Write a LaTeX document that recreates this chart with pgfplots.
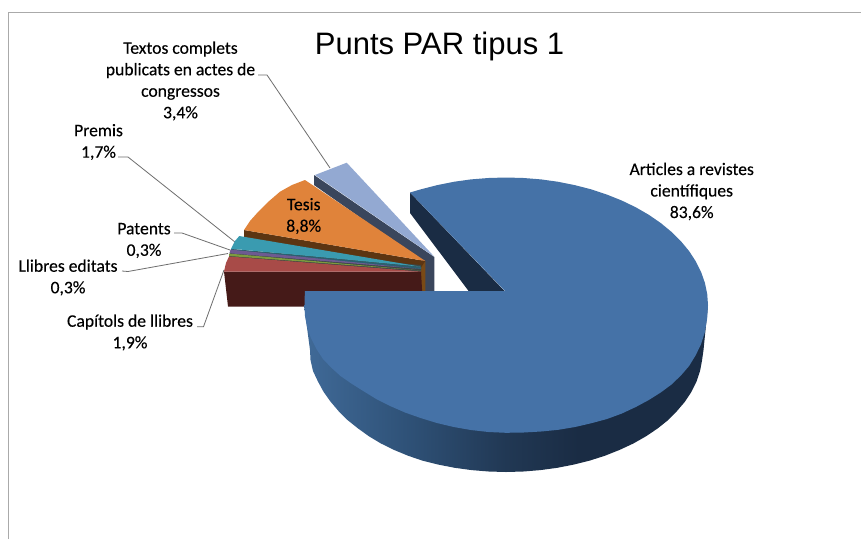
\documentclass[border=0pt]{standalone}
\usepackage{fontspec}
\usepackage{pgfplots}
\pgfplotsset{compat=1.18}
\setmainfont[FakeBold=0.2]{Carlito}
\newfontfamily\labfont[FakeBold=0.25]{Carlito}
\newfontfamily\titlefont{Liberation Sans}
\definecolor{pieblue}{RGB}{69,114,167}
\definecolor{wallblue}{RGB}{26,44,68}
\definecolor{sa}{RGB}{64,106,152}
\definecolor{sb}{RGB}{47,82,120}
\definecolor{sc}{RGB}{33,56,84}
\definecolor{sd}{RGB}{26,44,68}
\definecolor{leader}{RGB}{110,110,110}
\pgfdeclarehorizontalshading{sideblue}{100bp}{color(0bp)=(sa); color(25bp)=(sa); color(37.5bp)=(sb); color(50bp)=(sc); color(59bp)=(sd); color(100bp)=(sd)}
\begin{document}
\begin{tikzpicture}
\begin{axis}[width=861pt,height=539pt,scale only axis,xmin=0,xmax=861,ymin=0,ymax=539,y dir=reverse,hide axis,no markers,clip=true]
% canvas
\addplot[fill=white,draw=none] coordinates {(0,0)(861,0)(861,539)(0,539)} -- cycle;
% frame
\addplot[draw={rgb,255:red,170;green,170;blue,170},line width=1.2pt] coordinates {(8.3,539)(8.3,12.8)(861,12.8)};
% leaders
\addplot[draw=leader,line width=0.8pt] coordinates {(258,75)(267,75)(330,168)};
\addplot[draw=leader,line width=0.8pt] coordinates {(118,157)(128,157)(235,242)};
\addplot[draw=leader,line width=0.8pt] coordinates {(174,233)(182,233)(230,250)};
\addplot[draw=leader,line width=0.8pt] coordinates {(122,271)(128,271.5)(228,253.5)};
\addplot[draw=leader,line width=0.8pt] coordinates {(197,326.7)(203.5,326.7)(224,270)};
% light-blue slice (3,4%)
\addplot[fill={rgb,255:red,58;green,70;blue,92},draw=none] coordinates {(314,175)(314,185)(425,263)(425,291.5)(434.3,291.5)(434.3,257)} -- cycle;
\addplot[fill={rgb,255:red,147;green,169;blue,210},draw=none] coordinates {(315,175)(346.7,162.7)(434.3,256.7)} -- cycle;
% orange slice (8,8%)
\addplot[fill={rgb,255:red,122;green,74;blue,22},draw=none] coordinates {(420,262)(425.3,261)(425.3,291.5)(420,291.5)} -- cycle;
\addplot[fill={rgb,255:red,92;green,53;blue,18},draw=none] coordinates {(244,230)(244,237.5)(421,267.5)(425.3,261)} -- cycle;
\addplot[fill={rgb,255:red,224;green,131;blue,58},draw=none] coordinates {(425.3,261)(244,230)(250,221)(258.3,211.7)(268,202)(280,191.7)(292,185)(305,180)} -- cycle;
% backing of the thin slices
\addplot[fill={rgb,255:red,60;green,70;blue,70},draw=none] coordinates {(231,249)(421,265)(421,272)(229,257)} -- cycle;
% teal slice (1,7%)
\addplot[fill={rgb,255:red,42;green,96;blue,112},draw=none] coordinates {(231,249)(421,267)(421,269)(231,251)} -- cycle;
\addplot[fill={rgb,255:red,58;green,155;blue,176},draw=none] coordinates {(421,266.7)(231,248.7)(235,241)(239.3,236)} -- cycle;
% purple slice (0,3%)
\addplot[fill={rgb,255:red,110;green,90;blue,144},draw=none] coordinates {(421,269)(229.3,253.3)(230.7,249.6)} -- cycle;
% green slice (0,3%)
\addplot[fill={rgb,255:red,125;green,155;blue,62},draw=none] coordinates {(421,270.5)(229,256)(229.3,253.6)} -- cycle;
% red slice (1,9%)
\addplot[fill={rgb,255:red,69;green,26;blue,24},draw=none] coordinates {(224,271.5)(228,306.5)(423,306.5)(421,271.5)} -- cycle;
\addplot[fill={rgb,255:red,168;green,75;blue,72},draw=none] coordinates {(421,271.5)(224,271.5)(226,263)(229,256.5)} -- cycle;
% big slice side
\addplot[shading=sideblue,shade,draw=none] coordinates {(304,305)(310,350)(310.5,360)(313,371)(318,381.6)(323.5,391.7)(330.5,401.6)(338.5,411)(347.5,420)(358,428.4)(369,436.3)(381,443.5)(394,449.9)(408,455.7)(422.3,460.6)(438.3,464.6)(454.8,467.8)(471.6,470.1)(488.7,471.5)(506,472)(523.3,471.5)(540.4,470.1)(557.2,467.8)(573.7,464.6)(589.7,460.6)(605,455.7)(619.6,449.9)(633.3,443.5)(646,436.3)(657.7,428.4)(668.2,420)(677,411)(685,401.6)(691.5,391.7)(696.5,381.6)(700,371.2)(702,360.6)(703.5,350)(708,305)} -- cycle;
% big slice inner wall
\addplot[fill=wallblue,draw=none] coordinates {(410,192.5)(410,213)(469,291.5)(505,291.5)} -- cycle;
% big slice top
\addplot[fill=pieblue,draw=none] coordinates {(505,291)(410,192.5)(420.6,189.4)(436.9,185.2)(453.7,181.8)(470.9,179.4)(488.4,178)(506,177.5)(523.6,178)(541.1,179.4)(558.3,181.8)(575.1,185.2)(591.4,189.4)(607,194.6)(621.9,200.6)(635.8,207.3)(648.8,214.8)(660.7,223)(671.5,231.9)(680.9,241.2)(689.1,251.1)(695.8,261.4)(701.1,272)(704.9,282.9)(707.2,293.9)(708,305)(707.2,318)(704.9,332)(701.1,344)(695.8,355)(689.1,366)(680.9,375.5)(671.5,384.5)(660.7,392.5)(648.8,400)(635.8,407)(621.9,413.5)(607,419)(591.4,423.2)(575.1,427)(558.3,429.8)(541.1,431.5)(523.6,432.5)(506,432.8)(488.4,432)(470.9,430)(453.7,427)(436.9,423)(420.6,418)(405,412.5)(390.1,406)(376.2,399)(363.2,391)(351.3,383.5)(340.5,376)(331.1,367.5)(322.9,358.9)(316.2,348.6)(310.9,338)(307.1,327.1)(305,316.1)(304.5,305)(304.8,293.9)(305,291)} -- cycle;
% texts
\node[font=\titlefont\fontsize{31}{36}\selectfont,inner sep=0pt] at (axis cs:439.5,46.5) {Punts PAR tipus 1};
\tikzset{lab/.style={align=center,inner sep=0pt,font=\labfont\fontsize{17.6}{21.5}\selectfont,text=black}}
\node[lab] at (axis cs:180.5,81) {Textos complets\\publicats en actes de\\congressos\\3,4\%};
\node[lab] at (axis cs:98.5,142) {Premis\\1,7\%};
\node[lab] at (axis cs:144,240.5) {Patents\\0,3\%};
\node[lab] at (axis cs:68,277.5) {Llibres editats\\0,3\%};
\node[lab] at (axis cs:130,332.5) {Capítols de llibres\\1,9\%};
\node[lab] at (axis cs:303.7,216) {Tesis\\8,8\%};
\node[lab] at (axis cs:691.7,191.5) {Articles a revistes\\científiques\\83,6\%};
\end{axis}
\end{tikzpicture}
\end{document}
